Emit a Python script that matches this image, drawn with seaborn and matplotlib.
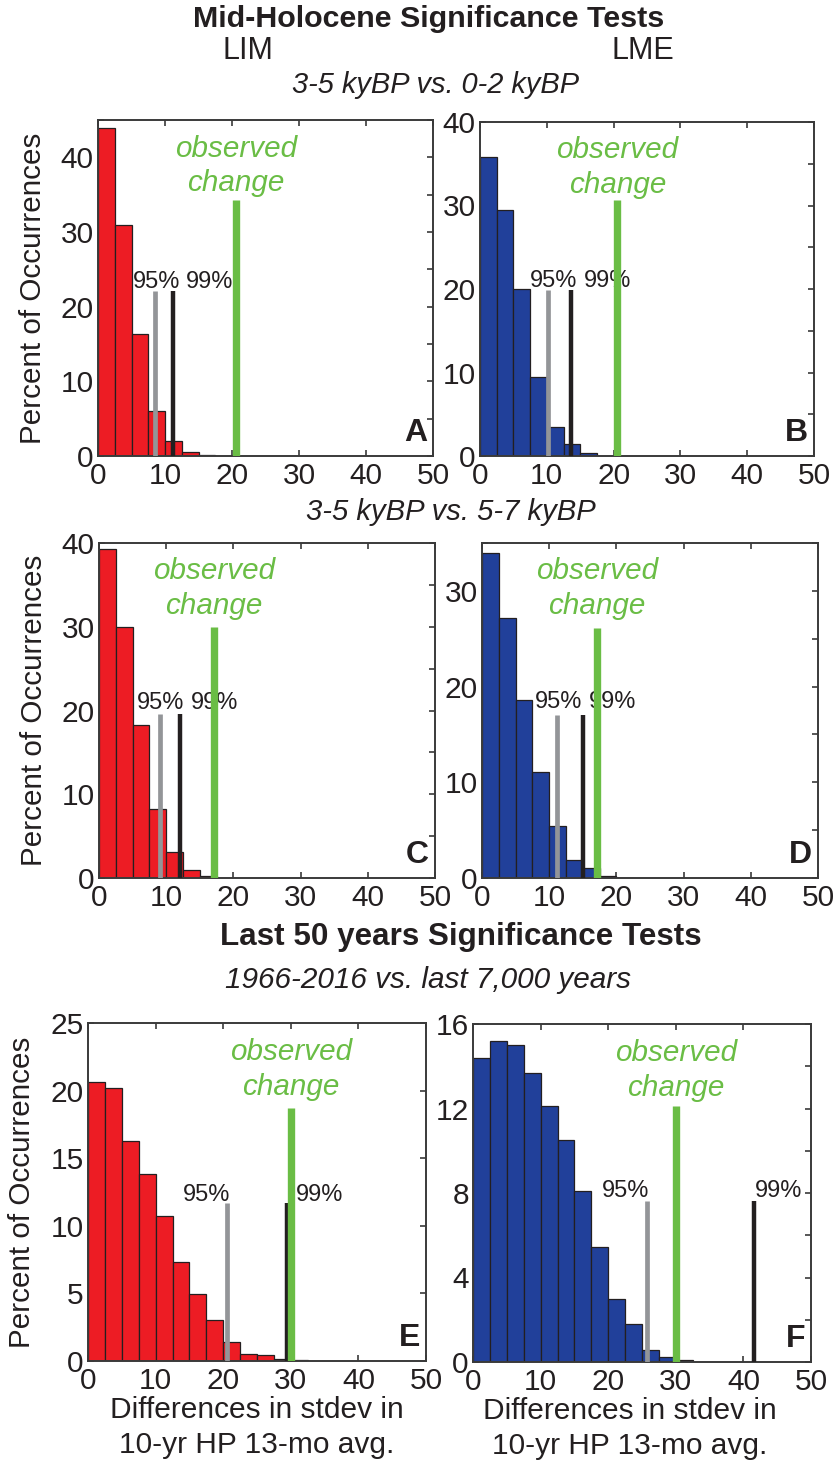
import numpy as np
import pandas as pd
import seaborn as sns
import matplotlib
matplotlib.use("Agg")
import matplotlib.pyplot as plt
from matplotlib.ticker import MultipleLocator

# ---------------- data (percent of occurrences per 2.5-wide bin, starting at 0) -------------
BIN_WIDTH = 2.5
hist_A = [43.9, 31.0, 16.4, 6.0, 2.05, 0.5, 0.15]
hist_B = [35.8, 29.5, 20.0, 9.5, 3.5, 1.4, 0.3]
hist_C = [39.3, 30.0, 18.3, 8.2, 3.1, 1.0, 0.2]
hist_D = [34.0, 27.2, 18.6, 11.1, 5.4, 1.9, 1.0, 0.17, 0.05]
hist_E = [20.6, 20.2, 16.3, 13.8, 10.7, 7.3, 4.95, 3.06, 1.4, 0.54, 0.46, 0.17, 0.06]
hist_F = [14.4, 15.2, 15.0, 13.7, 12.1, 10.5, 8.1, 5.45, 3.0, 1.82, 0.55, 0.22, 0.08]

pct95 = [8.5, 10.25, 9.1, 11.1, 20.5, 25.8]
pct99 = [11.2, 13.55, 12.1, 15.05, 29.4, 41.5]
observed = [20.6, 20.55, 17.1, 17.1, 30.05, 30.0]
pct_line_top = [22.1, 19.9, 19.6, 17.0, 11.7, 7.6]
obs_line_top = [34.3, 30.7, 30.0, 26.1, 18.7, 12.1]

panel_letters = ["A", "B", "C", "D", "E", "F"]
ylims = [45, 40, 40, 35, 25, 16]
ymajor = [10, 10, 10, 10, 5, 4]
yminor = [5, 5, 5, 5, 5, 2]
xticks = [0, 10, 20, 30, 40, 50]

# text label positions (data coords)
lab95_x = [8.77, 10.95, 9.1, 11.45, 17.6, 22.6]
lab99_x = [16.7, 19.05, 17.2, 19.45, 34.3, 45.2]
lab_y = [23.3, 20.9, 20.9, 18.4, 12.3, 8.1]

RED = "#ed1c24"
BLUE = "#21409a"
GRAY = "#939598"
BLACK = "#231f20"
GREEN = "#6abd45"
bar_colors = [RED, BLUE, RED, BLUE, RED, BLUE]
hists = [hist_A, hist_B, hist_C, hist_D, hist_E, hist_F]

sns.set_theme(style="ticks")
plt.rcParams["font.family"] = ["Liberation Sans", "DejaVu Sans"]
plt.rcParams["text.color"] = BLACK
plt.rcParams["axes.labelcolor"] = BLACK

W, H = 839, 1460
fig = plt.figure(figsize=(W / 100, H / 100), dpi=100)

# axes boxes in pixels: left, right, top, bottom
boxes = [
    (98, 433, 120, 456),
    (480, 814, 122, 456),
    (99, 435, 543, 878),
    (482, 818, 543, 878),
    (88, 426, 1023, 1361),
    (473, 811, 1024, 1362),
]

TICK_FS = 21.5
for i, (l, r, t, b) in enumerate(boxes):
    ax = fig.add_axes([l / W, 1 - b / H, (r - l) / W, (b - t) / H])
    vals = hists[i]
    n = len(vals)
    centers = [BIN_WIDTH * (k + 0.5) for k in range(n)]
    df = pd.DataFrame({"x": centers, "w": vals})
    sns.histplot(data=df, x="x", weights="w", binwidth=BIN_WIDTH,
                 binrange=(0, n * BIN_WIDTH), color=bar_colors[i],
                 edgecolor=BLACK, linewidth=0.9, alpha=1.0, ax=ax)
    ax.vlines(pct95[i], 0, pct_line_top[i], color=GRAY, lw=3.4, zorder=3)
    ax.vlines(pct99[i], 0, pct_line_top[i], color=BLACK, lw=3.2, zorder=3)
    ax.vlines(observed[i], 0, obs_line_top[i], color=GREEN, lw=5.3, zorder=4)

    ax.set_xlim(0, 50)
    ax.set_ylim(0, ylims[i])
    ax.set_xticks(xticks)
    ax.yaxis.set_major_locator(MultipleLocator(ymajor[i]))
    ax.yaxis.set_minor_locator(MultipleLocator(yminor[i]))
    ax.tick_params(axis="both", which="both", direction="in", top=True, right=True,
                   length=4, width=1.2, color="#3a3a3a", labelsize=TICK_FS,
                   labelcolor=BLACK)
    ax.tick_params(axis="x", pad=4)
    ax.tick_params(axis="y", pad=3)
    for s in ax.spines.values():
        s.set_color("#3a3a3a")
        s.set_linewidth(1.4)
    ax.set_xlabel("")
    ax.set_ylabel("")
    if i % 2 == 0:
        ax.set_ylabel("Percent of Occurrences", fontsize=21.3)
        ax.yaxis.set_label_coords(-0.153, 0.5)

    ax.text(lab95_x[i], lab_y[i], "95%", ha="center", va="center", fontsize=17, color=BLACK)
    ax.text(lab99_x[i], lab_y[i], "99%", ha="center", va="center", fontsize=17, color=BLACK)
    tr = ax.get_xaxis_transform()
    ax.text(observed[i], 0.915, "observed", transform=tr, ha="center", va="center",
            fontsize=21.3, style="italic", color=GREEN)
    ax.text(observed[i], 0.812, "change", transform=tr, ha="center", va="center",
            fontsize=21.3, style="italic", color=GREEN)
    ax.text(0.982, 0.025, panel_letters[i], transform=ax.transAxes, ha="right",
            va="bottom", fontsize=23, fontweight="bold", color=BLACK)

    if i >= 4:
        ax.set_xlabel("Differences in stdev in\n10-yr HP 13-mo avg.", fontsize=21.5,
                      linespacing=1.3)
        ax.xaxis.set_label_coords(0.5 if i == 4 else 0.464, -0.105)


def ftext(x, y, s, **kw):
    fig.text(x / W, 1 - y / H, s, ha="center", va="center", **kw)


ftext(429, 19, "Mid-Holocene Significance Tests", fontsize=21.9, fontweight="bold")
ftext(248, 51, "LIM", fontsize=22)
ftext(643, 51, "LME", fontsize=22)
ftext(436, 85, "3-5 kyBP vs. 0-2 kyBP", fontsize=20.9, style="italic")
ftext(451, 512, "3-5 kyBP vs. 5-7 kyBP", fontsize=21.1, style="italic")
ftext(461, 937, "Last 50 years Significance Tests", fontsize=22.6, fontweight="bold")
ftext(428, 980, "1966-2016 vs. last 7,000 years", fontsize=21.4, style="italic")

fig.savefig("out.png", dpi=100)
